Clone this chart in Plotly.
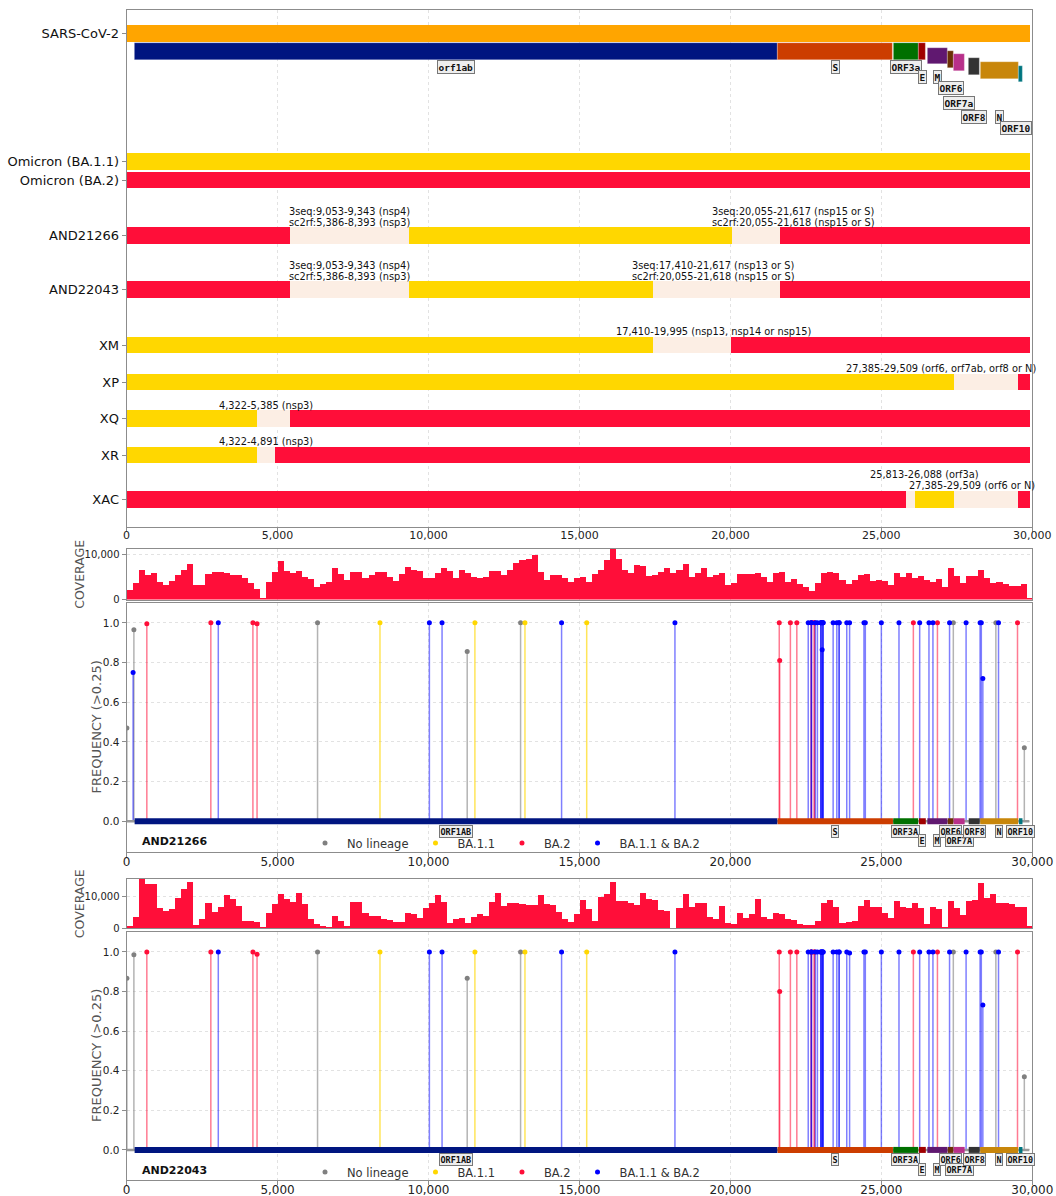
import plotly.graph_objects as go

# ---------------------------------------------------------------- data
GENOME_LENGTH = 29903

GENE_NAMES = ["orf1ab", "S", "ORF3a", "E", "M", "ORF6", "ORF7a", "ORF8", "N", "ORF10"]
GENE_STARTS = [266, 21563, 25393, 26245, 26523, 27202, 27394, 27894, 28274, 29558]
GENE_ENDS = [21555, 25384, 26220, 26472, 27191, 27387, 27759, 28259, 29533, 29674]

TRACK_NAMES = ["SARS-CoV-2", "Omicron (BA.1.1)", "Omicron (BA.2)",
               "AND21266", "AND22043", "XM", "XP", "XQ", "XR", "XAC"]

# breakpoints (nt) and the parent of each stretch between them
AND21266_BREAKS = [0, 5386, 9343, 20055, 21618, 29903]
AND21266_PARENTS = ["BA.2", "unresolved", "BA.1.1", "unresolved", "BA.2"]
AND22043_BREAKS = [0, 5386, 9343, 17410, 21618, 29903]
AND22043_PARENTS = ["BA.2", "unresolved", "BA.1.1", "unresolved", "BA.2"]
XM_BREAKS = [0, 17410, 19995, 29903]
XM_PARENTS = ["BA.1.1", "unresolved", "BA.2"]
XP_BREAKS = [0, 27385, 29509, 29903]
XP_PARENTS = ["BA.1.1", "unresolved", "BA.2"]
XQ_BREAKS = [0, 4322, 5385, 29903]
XQ_PARENTS = ["BA.1.1", "unresolved", "BA.2"]
XR_BREAKS = [0, 4322, 4891, 29903]
XR_PARENTS = ["BA.1.1", "unresolved", "BA.2"]
XAC_BREAKS = [0, 25813, 26088, 27385, 29509, 29903]
XAC_PARENTS = ["BA.2", "unresolved", "BA.1.1", "unresolved", "BA.2"]

# breakpoint interval notes
AND21266_NOTES = ["3seq:9,053-9,343 (nsp4)\nsc2rf:5,386-8,393 (nsp3)",
                  "3seq:20,055-21,617 (nsp15 or S)\nsc2rf:20,055-21,618 (nsp15 or S)"]
AND22043_NOTES = ["3seq:9,053-9,343 (nsp4)\nsc2rf:5,386-8,393 (nsp3)",
                  "3seq:17,410-21,617 (nsp13 or S)\nsc2rf:20,055-21,618 (nsp15 or S)"]
XM_NOTES = ["17,410-19,995 (nsp13, nsp14 or nsp15)"]
XP_NOTES = ["27,385-29,509 (orf6, orf7ab, orf8 or N)"]
XQ_NOTES = ["4,322-5,385 (nsp3)"]
XR_NOTES = ["4,322-4,891 (nsp3)"]
XAC_NOTES = ["25,813-26,088 (orf3a)", "27,385-29,509 (orf6 or N)"]

# read depth in 200-nt windows
COVERAGE_BIN = 200
AND21266_COVERAGE = [
    2000, 3700, 6500, 5300, 5800, 3900, 3200, 4100, 5400, 6400,
    7900, 3100, 3200, 5600, 6000, 6000, 5900, 5400, 5400, 4800,
    3700, 2400, 200, 3900, 6100, 8400, 6300, 5800, 6200, 4900,
    4600, 2800, 3400, 3800, 6900, 5600, 4300, 6100, 6100, 4700,
    5400, 6100, 6000, 5000, 4100, 5500, 7100, 6400, 6200, 4800,
    4800, 5800, 6900, 6200, 4700, 6500, 5800, 4900, 4700, 5000,
    6200, 6300, 5400, 6500, 8000, 8600, 8900, 9800, 6100, 4300,
    5400, 5400, 4700, 3900, 4700, 5000, 3900, 5600, 6400, 8700,
    11200, 8900, 6500, 5800, 7500, 7300, 5100, 5300, 6100, 6900,
    5800, 6400, 7900, 4900, 5900, 6900, 5000, 5400, 5900, 3200,
    3600, 5600, 5500, 5500, 5900, 4900, 3900, 5800, 6100, 3900,
    4500, 3300, 2800, 1900, 3600, 5900, 6100, 5800, 4300, 3400,
    4300, 5400, 5600, 4100, 4300, 4100, 3200, 5900, 5000, 5900,
    4700, 5200, 4300, 3900, 4500, 2800, 6900, 5200, 3600, 5200,
    5200, 6500, 4700, 3600, 3900, 3400, 3000, 3000, 3400, 400,
]
AND22043_COVERAGE = [
    700, 3400, 15300, 13700, 13700, 6400, 5400, 5900, 9500, 12100,
    14400, 1100, 2800, 7900, 5200, 6700, 10200, 9000, 6900, 2300,
    2400, 1900, 200, 4600, 7400, 10700, 9000, 8200, 10900, 7400,
    2800, 1300, 700, 200, 3800, 2400, 700, 8100, 8200, 4900,
    3900, 3900, 2800, 2500, 2000, 2000, 4900, 4300, 3100, 6400,
    8000, 10200, 8200, 1500, 2800, 3100, 1800, 3400, 4300, 3800,
    8200, 11000, 7000, 7700, 7900, 7400, 7200, 7200, 10300, 7400,
    7100, 5200, 2800, 1900, 4400, 8800, 5900, 2400, 9800, 10500,
    14500, 8500, 8500, 7700, 7100, 11000, 9100, 8800, 5700, 5500,
    0, 6200, 10500, 6700, 7700, 7700, 3600, 3000, 7000, 1500,
    1300, 4600, 3100, 4300, 9000, 3600, 2800, 4800, 4300, 2800,
    2600, 1200, 1100, 900, 2400, 7700, 8800, 6700, 1800, 2000,
    2400, 7000, 8800, 6700, 6500, 4600, 3100, 8600, 6700, 6200,
    7700, 6200, 1300, 6700, 6000, 200, 8500, 6200, 4100, 8500,
    8800, 14200, 9300, 10800, 8000, 8000, 7400, 6700, 6700, 700,
]

# allele frequencies of called mutations, grouped by the lineage they mark
AND21266_NOLIN_POS = [10, 241, 6325, 11282, 13050, 27384, 28793, 29736]
AND21266_NOLIN_FREQ = [0.47, 0.965, 1.0, 0.856, 1.0, 1.0, 1.0, 0.37]
AND21266_BA11_POS = [8393, 11537, 13195, 15240]
AND21266_BA11_FREQ = [1.0, 1.0, 1.0, 1.0]
AND21266_BA2_POS = [670, 2790, 4184, 4321, 21618, 21633, 21987, 22200, 22674,
                    22688, 22775, 22786, 26060, 26858, 29510]
AND21266_BA2_FREQ = [0.995, 1.0, 1.0, 0.995, 1.0, 0.81, 1.0, 1.0, 1.0,
                     1.0, 1.0, 1.0, 1.0, 1.0, 1.0]
AND21266_SHARED_POS = [215, 3037, 10029, 10449, 14408, 18163, 22578, 22679, 22686,
                       22813, 22882, 22992, 22995, 23013, 23040, 23055, 23063, 23075,
                       23403, 23525, 23599, 23604, 23854, 23948, 24424, 24469, 25000,
                       25584, 26270, 26577, 26709, 27259, 27807, 28271, 28311, 28362,
                       28881]
AND21266_SHARED_FREQ = [0.75, 1.0, 1.0, 1.0, 1.0, 1.0, 1.0, 1.0, 1.0,
                        1.0, 1.0, 1.0, 1.0, 1.0, 0.865, 1.0, 1.0, 1.0,
                        1.0, 1.0, 1.0, 1.0, 1.0, 1.0, 1.0, 1.0, 1.0,
                        1.0, 1.0, 1.0, 1.0, 1.0, 1.0, 1.0, 1.0, 0.72,
                        1.0]

AND22043_NOLIN_POS = [10, 241, 6325, 11282, 13050, 27384, 28793, 29736]
AND22043_NOLIN_FREQ = [0.867, 0.986, 1.0, 0.867, 1.0, 1.0, 1.0, 0.37]
AND22043_BA11_POS = [8393, 11537, 13195, 15240]
AND22043_BA11_FREQ = [1.0, 1.0, 1.0, 1.0]
AND22043_BA2_POS = [670, 2790, 4184, 4321, 21618, 21633, 21987, 22200, 22674,
                    22688, 22775, 22786, 26060, 26858, 29510]
AND22043_BA2_FREQ = [1.0, 1.0, 1.0, 0.988, 1.0, 0.80, 1.0, 1.0, 1.0,
                     1.0, 1.0, 1.0, 1.0, 1.0, 1.0]
AND22043_SHARED_POS = [3037, 10029, 10449, 14408, 18163, 22578, 22679, 22686,
                       22813, 22882, 22992, 22995, 23013, 23040, 23055, 23063, 23075,
                       23403, 23525, 23599, 23604, 23854, 23948, 24424, 24469, 25000,
                       25584, 26270, 26577, 26709, 27259, 27807, 28271, 28311, 28362,
                       28881]
AND22043_SHARED_FREQ = [1.0, 1.0, 1.0, 1.0, 1.0, 1.0, 1.0, 1.0,
                        1.0, 1.0, 1.0, 1.0, 1.0, 1.0, 1.0, 1.0, 1.0,
                        1.0, 1.0, 1.0, 1.0, 1.0, 0.995, 1.0, 1.0, 1.0,
                        1.0, 1.0, 1.0, 1.0, 1.0, 1.0, 1.0, 1.0, 0.732,
                        1.0]

LINEAGE_LABELS = ["No lineage", "BA.1.1", "BA.2", "BA.1.1 & BA.2"]

# ---------------------------------------------------------------- styling / layout
W, H = 1056, 1196
FONT = "DejaVu Sans"
MONO = "DejaVu Sans Mono"

COL_GENOME = "#FFA500"
COL_BA11 = "#FFD700"
COL_BA2 = "#FF0E39"
COL_UNRES = "#FCEEE4"
COL_NOLIN = "#808080"
COL_SHARED = "#0000FF"
PARENT_COLOURS = {"BA.1.1": COL_BA11, "BA.2": COL_BA2, "unresolved": COL_UNRES}
GENE_COLOURS = ["#001580", "#CC3D00", "#007000", "#A00000", "#601870",
                "#6B3005", "#B8308A", "#333333", "#C8860A", "#00757F"]
STEM_COLOURS = ["rgba(128,128,128,0.6)", "rgba(255,215,0,0.65)",
                "rgba(255,14,57,0.55)", "rgba(0,0,255,0.5)"]
DOT_COLOURS = [COL_NOLIN, COL_BA11, COL_BA2, COL_SHARED]
FRAME = "#8C8C8C"
GRID = "#E2E2E2"


def py(p):
    """pixel row -> paper y"""
    return 1 - p / H


X_DOMAIN = [126.6 / W, 1032.3 / W]
DOM_TRACKS = [py(527), py(10)]
DOM_COV1 = [py(599.5), py(549)]
DOM_FREQ1 = [py(852), py(603)]
DOM_COV2 = [py(928.3), py(879)]
DOM_FREQ2 = [py(1180), py(932)]

# track panel vertical units (reversed axis)
TRACK_RANGE = [51.7, 0]
ROW_CENTRES = [2.33, 15.17, 17.0, 22.53, 27.97, 33.5, 37.2, 40.83, 44.5, 48.92]
BAR_THICK = 1.66
GENE_ROWS = [4.17, 4.17, 4.17, 4.17, 4.58, 4.93, 5.27, 5.67, 6.03, 6.4]
GENE_LABEL_ROWS = [5.67, 5.67, 5.67, 6.73, 6.73, 7.8, 9.3, 10.73, 10.73, 11.83]
GENE_LABEL_XSHIFT = [0, 0, 0, 0, 0, 0, 0, 0, 0, -5]
FREQ_LABEL_ROWS = [-0.05, -0.05, -0.05, -0.097, -0.097, -0.05, -0.097, -0.05, -0.05, -0.05]
NOTE_X = {"AND21266": [7383, 22060], "AND22043": [7383, 19427], "XM": [19424],
          "XP": [26990], "XQ": [4627], "XR": [4627], "XAC": [26433, 28016]}
NOTE_LIFT = {"XAC": [1, 0]}
NOTE_LINE = 1.1

fig = go.Figure()

# ---------------------------------------------------------------- track panel
segments = {"BA.1.1": [], "BA.2": [], "unresolved": []}
segments["BA.1.1"].append((0, GENOME_LENGTH, ROW_CENTRES[1]))
segments["BA.2"].append((0, GENOME_LENGTH, ROW_CENTRES[2]))
recombinants = {
    "AND21266": (AND21266_BREAKS, AND21266_PARENTS, AND21266_NOTES),
    "AND22043": (AND22043_BREAKS, AND22043_PARENTS, AND22043_NOTES),
    "XM": (XM_BREAKS, XM_PARENTS, XM_NOTES),
    "XP": (XP_BREAKS, XP_PARENTS, XP_NOTES),
    "XQ": (XQ_BREAKS, XQ_PARENTS, XQ_NOTES),
    "XR": (XR_BREAKS, XR_PARENTS, XR_NOTES),
    "XAC": (XAC_BREAKS, XAC_PARENTS, XAC_NOTES),
}
annotations = []
for name, (breaks, parents, notes) in recombinants.items():
    row = ROW_CENTRES[TRACK_NAMES.index(name)]
    for s, e, par in zip(breaks[:-1], breaks[1:], parents):
        segments[par].append((s, e, row))
    lifts = NOTE_LIFT.get(name, [0] * len(notes))
    for note, nx, lift in zip(notes, NOTE_X[name], lifts):
        lines = note.split("\n")
        for k, line in enumerate(reversed(lines)):
            annotations.append(dict(
                x=nx, y=row - 1.33 - NOTE_LINE * (k + lift), xref="x", yref="y",
                text=line, showarrow=False, xanchor="center", yanchor="middle",
                font=dict(family=FONT, size=9.8, color="#111")))

# reference genome bar
fig.add_trace(go.Bar(orientation="h", base=[0], x=[GENOME_LENGTH], y=[ROW_CENTRES[0]],
                     width=[BAR_THICK], marker=dict(color=COL_GENOME, line_width=0),
                     xaxis="x", yaxis="y", showlegend=False, hoverinfo="skip"))
for par in ["unresolved", "BA.1.1", "BA.2"]:
    segs = segments[par]
    fig.add_trace(go.Bar(orientation="h", base=[s for s, e, r in segs],
                         x=[e - s for s, e, r in segs], y=[r for s, e, r in segs],
                         width=[BAR_THICK] * len(segs),
                         marker=dict(color=PARENT_COLOURS[par], line_width=0),
                         xaxis="x", yaxis="y", showlegend=False, hoverinfo="skip"))
# gene models
fig.add_trace(go.Bar(orientation="h", base=GENE_STARTS,
                     x=[e - s for s, e in zip(GENE_STARTS, GENE_ENDS)], y=GENE_ROWS,
                     width=[BAR_THICK] * len(GENE_NAMES),
                     marker=dict(color=GENE_COLOURS, line=dict(color="rgba(255,255,255,0.5)", width=0.5)),
                     xaxis="x", yaxis="y", showlegend=False, hoverinfo="skip"))
for g, s, e, lr, xs in zip(GENE_NAMES, GENE_STARTS, GENE_ENDS, GENE_LABEL_ROWS, GENE_LABEL_XSHIFT):
    annotations.append(dict(
        x=(s + e) / 2, y=lr, xref="x", yref="y", text="<b>%s</b>" % g, showarrow=False,
        xshift=xs, font=dict(family=MONO, size=9.5, color="#111"), bgcolor="#EEEEEE",
        bordercolor="#777", borderwidth=1, borderpad=0.5))

# ---------------------------------------------------------------- coverage + frequency panels
samples = [
    ("AND21266", AND21266_COVERAGE,
     [(AND21266_NOLIN_POS, AND21266_NOLIN_FREQ), (AND21266_BA11_POS, AND21266_BA11_FREQ),
      (AND21266_BA2_POS, AND21266_BA2_FREQ), (AND21266_SHARED_POS, AND21266_SHARED_FREQ)],
     "x2", "y2", "x3", "y3", "legend", 843, DOM_FREQ1, DOM_COV1),
    ("AND22043", AND22043_COVERAGE,
     [(AND22043_NOLIN_POS, AND22043_NOLIN_FREQ), (AND22043_BA11_POS, AND22043_BA11_FREQ),
      (AND22043_BA2_POS, AND22043_BA2_FREQ), (AND22043_SHARED_POS, AND22043_SHARED_FREQ)],
     "x4", "y4", "x5", "y5", "legend2", 1172, DOM_FREQ2, DOM_COV2),
]

for name, cov, muts, cx, cy, fx, fy, leg, leg_y, fdom, cdom in samples:
    fig.add_trace(go.Bar(x=[i * COVERAGE_BIN + COVERAGE_BIN / 2 for i in range(len(cov))],
                         y=cov, width=COVERAGE_BIN, marker=dict(color=COL_BA2, line_width=0),
                         xaxis=cx, yaxis=cy, showlegend=False, hoverinfo="skip"))
    # stems
    for (pos, frq), col in zip(muts, STEM_COLOURS):
        xs, ys = [], []
        for p, f in zip(pos, frq):
            xs += [p, p, None]
            ys += [0, f, None]
        fig.add_trace(go.Scatter(x=xs, y=ys, mode="lines", line=dict(color=col, width=1.5),
                                 xaxis=fx, yaxis=fy, showlegend=False, hoverinfo="skip"))
    # genome backbone and genes
    fig.add_trace(go.Scatter(x=[0, GENOME_LENGTH], y=[0, 0], mode="lines",
                             line=dict(color="#999999", width=2.5),
                             xaxis=fx, yaxis=fy, showlegend=False, hoverinfo="skip"))
    for s, e, col in zip(GENE_STARTS, GENE_ENDS, GENE_COLOURS):
        fig.add_trace(go.Scatter(x=[s, e], y=[0, 0], mode="lines", line=dict(color=col, width=6),
                                 xaxis=fx, yaxis=fy, showlegend=False, hoverinfo="skip"))
    # dots
    for (pos, frq), col, lab in zip(muts, DOT_COLOURS, LINEAGE_LABELS):
        fig.add_trace(go.Scatter(x=pos, y=frq, mode="markers", name=lab,
                                 marker=dict(color=col, size=5), xaxis=fx, yaxis=fy,
                                 legend=leg, showlegend=True, hoverinfo="skip"))
    for g, s, e, lr in zip(GENE_NAMES, GENE_STARTS, GENE_ENDS, FREQ_LABEL_ROWS):
        annotations.append(dict(
            x=(s + e) / 2, y=lr, xref=fx, yref=fy, text="<b>%s</b>" % g.upper(),
            showarrow=False, font=dict(family=MONO, size=8.5, color="#111"),
            bgcolor="#EEEEEE", bordercolor="#777", borderwidth=1, borderpad=0.5))
    annotations.append(dict(x=140 / W, y=py(leg_y - 2), xref="paper", yref="paper",
                            text="<b>%s</b>" % name, showarrow=False, xanchor="left",
                            yanchor="middle", font=dict(family=FONT, size=11, color="#111")))
    annotations.append(dict(x=96 / W, y=(fdom[0] + fdom[1]) / 2, xref="paper", yref="paper",
                            text="FREQUENCY (>0.25)", textangle=-90, showarrow=False,
                            xanchor="center", yanchor="middle",
                            font=dict(family=FONT, size=13, color="#555")))
    annotations.append(dict(x=79.5 / W, y=(cdom[0] + cdom[1]) / 2, xref="paper", yref="paper",
                            text="COVERAGE", textangle=-90, showarrow=False,
                            xanchor="center", yanchor="middle",
                            font=dict(family=FONT, size=12.5, color="#555")))

# ---------------------------------------------------------------- axes
def xaxis(domain_anchor, labels=True, ticks=True, fontsize=12, standoff=-5):
    return dict(domain=X_DOMAIN, anchor=domain_anchor, range=[0, 30000], tick0=0, dtick=5000,
                automargin=False,
                showgrid=True, gridcolor=GRID, griddash="dot", gridwidth=1, zeroline=False,
                showline=True, mirror=True, linecolor=FRAME, linewidth=1,
                ticks="outside" if ticks else "", ticklen=4, tickcolor=FRAME,
                showticklabels=labels, tickformat=",d", ticklabelstandoff=standoff,
                tickfont=dict(family=FONT, size=fontsize, color="#222"))


def frame_y(domain, anchor, **kw):
    d = dict(domain=domain, anchor=anchor, automargin=False, zeroline=False, showline=True,
             mirror=True, linecolor=FRAME, linewidth=1, ticks="outside", ticklen=4,
             tickcolor=FRAME, tickfont=dict(family=FONT, size=10.5, color="#222"))
    d.update(kw)
    return d


legend_style = dict(orientation="h", x=303 / W, xanchor="left", yanchor="middle",
                    itemwidth=34, font=dict(family=FONT, size=11.5, color="#333"),
                    bgcolor="rgba(0,0,0,0)")

fig.update_layout(
    width=W, height=H, margin=dict(l=0, r=0, t=0, b=0, autoexpand=False),
    paper_bgcolor="white", plot_bgcolor="white", barmode="overlay", bargap=0,
    font=dict(family=FONT),
    xaxis=xaxis("y", fontsize=11, standoff=-6),
    yaxis=frame_y(DOM_TRACKS, "x", range=TRACK_RANGE, tickmode="array", tickvals=ROW_CENTRES,
                  ticktext=TRACK_NAMES, showgrid=False,
                  tickfont=dict(family=FONT, size=13, color="#111")),
    xaxis2=xaxis("y2", labels=False, ticks=False),
    yaxis2=frame_y(DOM_COV1, "x2", range=[0, 11100], tickvals=[0, 10000], tickformat=",d",
                   showgrid=True, gridcolor=GRID, griddash="dot", tickfont=dict(family=FONT, size=10, color="#222")),
    xaxis3=xaxis("y3"),
    yaxis3=frame_y(DOM_FREQ1, "x3", range=[-0.155, 1.1], tickvals=[0, 0.2, 0.4, 0.6, 0.8, 1.0],
                   tickformat=".1f", showgrid=True, gridcolor=GRID, griddash="dot"),
    xaxis4=xaxis("y4", labels=False, ticks=False),
    yaxis4=frame_y(DOM_COV2, "x4", range=[0, 15300], tickvals=[0, 10000], tickformat=",d",
                   showgrid=True, gridcolor=GRID, griddash="dot", tickfont=dict(family=FONT, size=10, color="#222")),
    xaxis5=xaxis("y5"),
    yaxis5=frame_y(DOM_FREQ2, "x5", range=[-0.152, 1.101], tickvals=[0, 0.2, 0.4, 0.6, 0.8, 1.0],
                   tickformat=".1f", showgrid=True, gridcolor=GRID, griddash="dot"),
    legend=dict(legend_style, y=py(843)),
    legend2=dict(legend_style, y=py(1172)),
    annotations=annotations,
)

fig.write_html("out.html")
